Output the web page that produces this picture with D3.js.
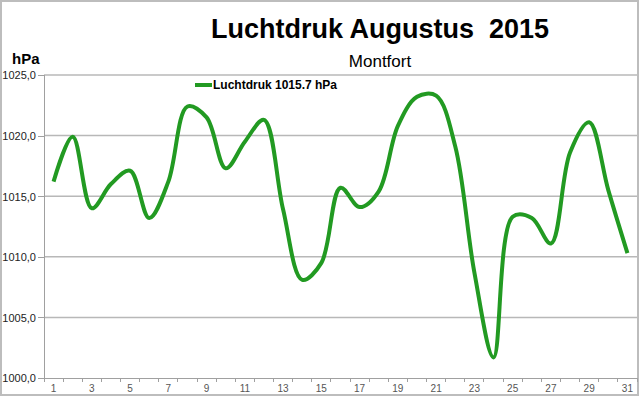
<!DOCTYPE html>
<html lang="nl">
<head>
<meta charset="UTF-8">
<title>Luchtdruk Augustus 2015</title>
<script src="https://d3js.org/d3.v7.min.js"></script>
<style>
body { margin: 0; background: #fff; }
svg { display: block; font-family: "Liberation Sans", Arial, sans-serif; }
.grid line { stroke: #b8b8b8; stroke-width: 1.5px; }
.axis path, .axis line { stroke: #a0a0a0; shape-rendering: crispEdges; }
</style>
</head>
<body>
<div id="chart"></div>
<script>
// data
var days = d3.range(1, 32);
var pressure = [1016.2, 1019.9, 1014.0, 1016.0, 1017.1, 1013.2, 1016.2, 1022.4, 1021.5, 1017.3,
                1019.5, 1021.3, 1013.9, 1008.1, 1009.5, 1015.7, 1014.1, 1015.4, 1020.8, 1023.2,
                1023.3, 1019.1, 1008.7, 1001.7, 1013.3, 1013.2, 1011.1, 1018.6, 1021.1, 1015.5, 1010.3];
var yTicks = [1000, 1005, 1010, 1015, 1020, 1025];
var xLabels = days.filter(function(d){ return d % 2 === 1; });
var seriesName = "Luchtdruk 1015.7 hPa";

var width = 640, height = 397;
var margin = {left: 44, right: 3, top: 75, bottom: 19};
var green = "#229a22";

var svg = d3.select("#chart").append("svg")
    .attr("width", width)
    .attr("height", height);

// outer frame
svg.append("rect")
    .attr("x", 1).attr("y", 1)
    .attr("width", width - 3).attr("height", height - 3)
    .attr("fill", "#fff")
    .attr("stroke", "#bdbdbd")
    .attr("stroke-width", 2);

var x = d3.scaleBand()
    .domain(days)
    .range([margin.left, width - margin.right]);
var y = d3.scaleLinear()
    .domain([1000, 1025])
    .range([height - margin.bottom, margin.top]);

// gridlines
svg.append("g").attr("class", "grid")
    .selectAll("line")
    .data(yTicks.slice(1))
    .enter().append("line")
    .attr("x1", margin.left).attr("x2", width - margin.right)
    .attr("y1", function(d){ return y(d); })
    .attr("y2", function(d){ return y(d); });

// y axis
var yAxis = d3.axisLeft(y)
    .tickValues(yTicks)
    .tickSize(6)
    .tickFormat(function(d){ return d3.format(".1f")(d).replace(".", ","); });
var gy = svg.append("g").attr("class", "axis")
    .attr("transform", "translate(" + margin.left + ",0)")
    .call(yAxis);
gy.select(".domain").attr("d", "M0," + margin.top + "V" + (height - margin.bottom));
gy.selectAll("text")
    .attr("x", -8)
    .attr("dy", "0.35em")
    .style("font-size", "11px")
    .style("font-family", "Liberation Sans, Arial, sans-serif")
    .attr("fill", "#222");

// x axis: ticks between categories, labels on odd days
var gx = svg.append("g").attr("class", "axis")
    .attr("transform", "translate(0," + (height - margin.bottom) + ")");
gx.append("line")
    .attr("x1", margin.left).attr("x2", width - margin.right)
    .attr("y1", 0).attr("y2", 0);
gx.selectAll("line.tick")
    .data(days.concat([32]))
    .enter().append("line")
    .attr("class", "tick")
    .attr("x1", function(d){ return d <= 31 ? x(d) : x(31) + x.bandwidth(); })
    .attr("x2", function(d){ return d <= 31 ? x(d) : x(31) + x.bandwidth(); })
    .attr("y1", 0).attr("y2", 4);
gx.selectAll("text")
    .data(xLabels)
    .enter().append("text")
    .attr("x", function(d){ return x(d) + x.bandwidth() / 2; })
    .attr("y", 14)
    .attr("text-anchor", "middle")
    .style("font-size", "10px")
    .attr("fill", "#555")
    .text(function(d){ return d; });

// line
var line = d3.line()
    .x(function(d, i){ return x(days[i]) + x.bandwidth() / 2; })
    .y(function(d){ return y(d); })
    .curve(d3.curveCatmullRom.alpha(0.5));
svg.append("path")
    .datum(pressure)
    .attr("d", line)
    .attr("fill", "none")
    .attr("stroke", green)
    .attr("stroke-width", 4)
    .attr("stroke-linejoin", "round");

// titles
svg.append("text")
    .attr("x", 380).attr("y", 38)
    .attr("text-anchor", "middle")
    .style("font-size", "27px")
    .style("font-weight", "bold")
    .style("white-space", "pre")
    .text("Luchtdruk Augustus  2015");
svg.append("text")
    .attr("x", 380).attr("y", 67)
    .attr("text-anchor", "middle")
    .style("font-size", "17px")
    .text("Montfort");
svg.append("text")
    .attr("x", 12).attr("y", 64)
    .style("font-size", "15px")
    .style("font-weight", "bold")
    .text("hPa");

// legend
svg.append("line")
    .attr("x1", 195).attr("x2", 212)
    .attr("y1", 85).attr("y2", 85)
    .attr("stroke", green)
    .attr("stroke-width", 4);
svg.append("text")
    .attr("x", 213).attr("y", 89)
    .style("font-size", "12px")
    .style("font-weight", "bold")
    .text(seriesName);
</script>
</body>
</html>
